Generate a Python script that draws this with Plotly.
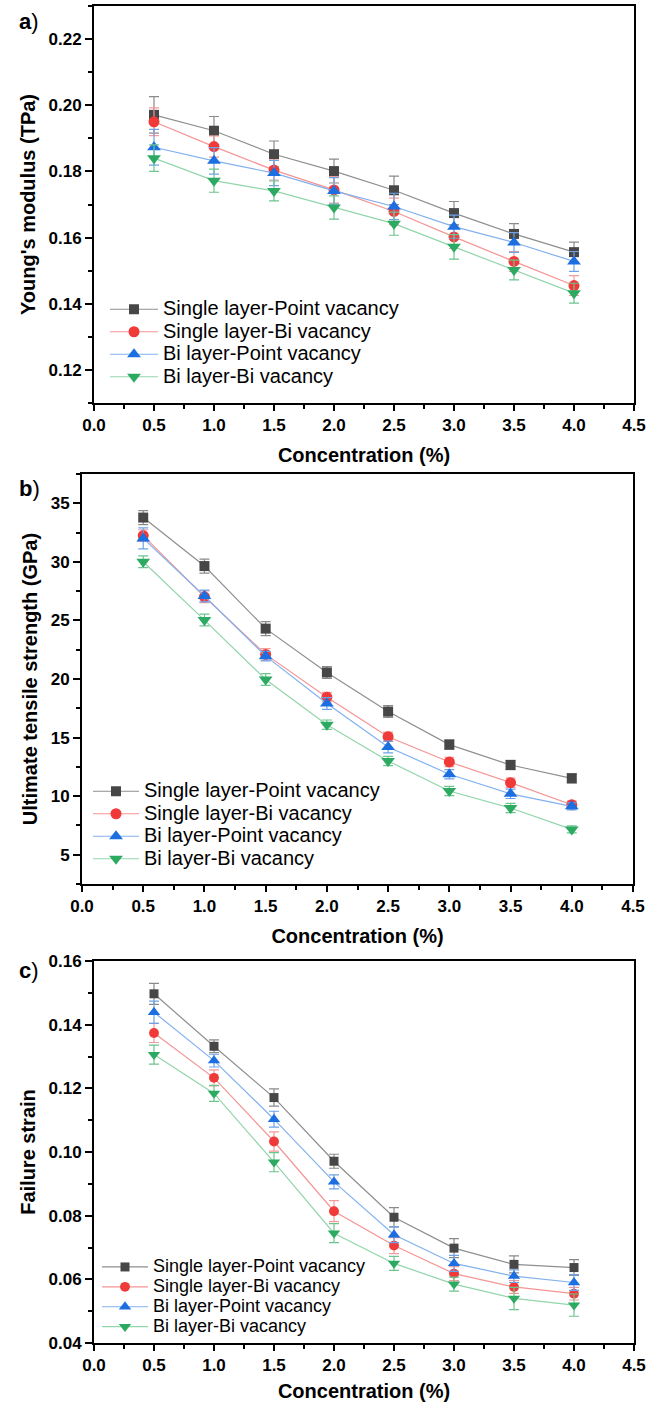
import plotly.graph_objects as go

# ---------------- data ----------------
conc = [0.5, 1.0, 1.5, 2.0, 2.5, 3.0, 3.5, 4.0]
series_names = ["Single layer-Point vacancy", "Single layer-Bi vacancy",
                "Bi layer-Point vacancy", "Bi layer-Bi vacancy"]

# a) Young's modulus (TPa)
ym_sp = [0.1971, 0.1923, 0.1852, 0.1801, 0.1743, 0.1674, 0.1611, 0.1556]
ym_sb = [0.1950, 0.1875, 0.1804, 0.1744, 0.1679, 0.1602, 0.1528, 0.1455]
ym_bp = [0.1873, 0.1832, 0.1795, 0.1741, 0.1694, 0.1633, 0.1585, 0.1528]
ym_bb = [0.1840, 0.1772, 0.1741, 0.1691, 0.1642, 0.1572, 0.1502, 0.1432]
ym_sp_err = [0.0055, 0.0043, 0.0040, 0.0036, 0.0043, 0.0035, 0.0031, 0.0030]
ym_sb_err = [0.0042, 0.0032, 0.0030, 0.0040, 0.0040, 0.0035, 0.0030, 0.0030]
ym_bp_err = [0.0054, 0.0040, 0.0038, 0.0040, 0.0040, 0.0035, 0.0030, 0.0030]
ym_bb_err = [0.0040, 0.0035, 0.0030, 0.0035, 0.0035, 0.0037, 0.0030, 0.0030]

# b) Ultimate tensile strength (GPa)
uts_sp = [33.78, 29.64, 24.30, 20.56, 17.22, 14.40, 12.66, 11.52]
uts_sb = [32.24, 27.02, 22.10, 18.45, 15.07, 12.92, 11.15, 9.27]
uts_bp = [32.00, 27.08, 21.95, 17.91, 14.20, 11.87, 10.20, 9.13]
uts_bb = [30.01, 25.03, 19.96, 16.10, 13.00, 10.44, 8.99, 7.16]
uts_sp_err = [0.6, 0.6, 0.6, 0.5, 0.5, 0.4, 0.4, 0.4]
uts_sb_err = [0.5, 0.5, 0.5, 0.4, 0.4, 0.4, 0.4, 0.3]
uts_bp_err = [0.9, 0.5, 0.4, 0.5, 0.5, 0.4, 0.4, 0.3]
uts_bb_err = [0.5, 0.5, 0.5, 0.4, 0.4, 0.4, 0.4, 0.3]

# c) Failure strain
fs_sp = [0.1497, 0.1332, 0.1171, 0.0971, 0.0795, 0.0698, 0.0647, 0.0637]
fs_sb = [0.1374, 0.1233, 0.1033, 0.0814, 0.0706, 0.0618, 0.0576, 0.0555]
fs_bp = [0.1439, 0.1287, 0.1103, 0.0906, 0.0740, 0.0650, 0.0610, 0.0590]
fs_bb = [0.1306, 0.1184, 0.0968, 0.0745, 0.0650, 0.0585, 0.0540, 0.0519]
fs_sp_err = [0.0033, 0.0020, 0.0027, 0.0022, 0.0030, 0.0030, 0.0027, 0.0025]
fs_sb_err = [0.0030, 0.0025, 0.0030, 0.0033, 0.0025, 0.0022, 0.0020, 0.0020]
fs_bp_err = [0.0035, 0.0020, 0.0025, 0.0022, 0.0025, 0.0025, 0.0020, 0.0025]
fs_bb_err = [0.0030, 0.0025, 0.0030, 0.0030, 0.0022, 0.0022, 0.0035, 0.0035]

# ---------------- styles ----------------
W, H = 662, 1402
FONT = "Liberation Sans, Arial, sans-serif"
marker_colors = ["#474747", "#f03a3a", "#1b6fe0", "#2daa62"]
line_colors = ["#8e8e8e", "#f59494", "#82b1ee", "#92d5ab"]
err_colors = ["#8a8a8a", "#f39a9a", "#6ea3e8", "#6cc48f"]
symbols = ["square", "circle", "triangle-up", "triangle-down"]
msizes = [10, 11, 12, 12]

fig = go.Figure()

panels = [
    dict(ys=[ym_sp, ym_sb, ym_bp, ym_bb], es=[ym_sp_err, ym_sb_err, ym_bp_err, ym_bb_err],
         xa="x", ya="y", leg="legend", ms=1.0, tsize=20),
    dict(ys=[uts_sp, uts_sb, uts_bp, uts_bb], es=[uts_sp_err, uts_sb_err, uts_bp_err, uts_bb_err],
         xa="x2", ya="y2", leg="legend2", ms=1.0, tsize=20),
    dict(ys=[fs_sp, fs_sb, fs_bp, fs_bb], es=[fs_sp_err, fs_sb_err, fs_bp_err, fs_bb_err],
         xa="x3", ya="y3", leg="legend3", ms=0.9, tsize=18),
]

for p in panels:
    for i in range(4):
        fig.add_trace(go.Scatter(
            x=conc, y=p["ys"][i],
            name='<span style="font-size:%dpx">%s</span>' % (p["tsize"], series_names[i]),
            mode="lines+markers",
            xaxis=p["xa"], yaxis=p["ya"], legend=p["leg"],
            line=dict(color=line_colors[i], width=1.2),
            marker=dict(symbol=symbols[i], size=msizes[i] * p["ms"], color=marker_colors[i],
                        line=dict(width=0)),
            error_y=dict(type="data", array=p["es"][i], visible=True,
                         color=err_colors[i], thickness=1.2, width=5),
        ))

def px_x(px):
    return px / W

def px_y(px):
    return 1 - px / H

tickfont = dict(family=FONT, size=17, color="black", weight="bold")
titlefont = dict(family=FONT, size=20, color="black", weight="bold")

def xaxis(domain, anchor):
    return dict(domain=domain, anchor=anchor, range=[0, 4.5], tick0=0, dtick=0.5,
                tickformat=".1f", showline=True, linecolor="black", linewidth=2,
                mirror=True, ticks="outside", ticklen=6, tickwidth=2, tickcolor="black",
                minor=dict(ticks="outside", ticklen=4, tickwidth=1.5, tickcolor="black",
                           dtick=0.25, tick0=0, showgrid=False),
                showgrid=False, zeroline=False, tickfont=tickfont, automargin=False,
                title=dict(text="Concentration (%)", font=titlefont, standoff=14))

def yaxis(domain, anchor, rng, tick0, dtick, mdtick, fmt, title):
    return dict(domain=domain, anchor=anchor, range=rng, tick0=tick0, dtick=dtick,
                tickformat=fmt, showline=True, linecolor="black", linewidth=2,
                mirror=True, ticks="outside", ticklen=7, tickwidth=2, tickcolor="black",
                minor=dict(ticks="outside", ticklen=4, tickwidth=1.5, tickcolor="black",
                           dtick=mdtick, tick0=tick0, showgrid=False),
                showgrid=False, zeroline=False, tickfont=tickfont, automargin=False,
                title=dict(text=title, font=titlefont, standoff=8))

legfont_ab = dict(family=FONT, size=15, color="black")
legfont_c = dict(family=FONT, size=13, color="black")

fig.update_layout(
    width=W, height=H, margin=dict(l=0, r=0, t=0, b=0, autoexpand=False),
    paper_bgcolor="white", plot_bgcolor="white", showlegend=True,
    xaxis=xaxis([px_x(94), px_x(634)], "y"),
    yaxis=yaxis([px_y(403), px_y(6)], "x", [0.11, 0.23], 0.12, 0.02, 0.01, ".2f",
                "Young's modulus (TPa)"),
    xaxis2=xaxis([px_x(82), px_x(633)], "y2"),
    yaxis2=yaxis([px_y(884), px_y(474)], "x2", [2.5, 37.5], 5, 5, 2.5, "d",
                 "Ultimate tensile strength (GPa)"),
    xaxis3=xaxis([px_x(94), px_x(634)], "y3"),
    yaxis3=yaxis([px_y(1343), px_y(961)], "x3", [0.0399999, 0.1600001], 0.04, 0.02, 0.01, ".2f",
                 "Failure strain"),
    legend=dict(x=px_x(105), y=px_y(293), xanchor="left", yanchor="top", itemwidth=48,
                bgcolor="rgba(0,0,0,0)", font=legfont_ab, tracegroupgap=0),
    legend2=dict(x=px_x(88), y=px_y(775), xanchor="left", yanchor="top", itemwidth=46,
                 bgcolor="rgba(0,0,0,0)", font=legfont_ab, tracegroupgap=0),
    legend3=dict(x=px_x(97), y=px_y(1252), xanchor="left", yanchor="top", itemwidth=46,
                 bgcolor="rgba(0,0,0,0)", font=legfont_c, tracegroupgap=0),
)

labels = [("a", 22), ("b", 488), ("c", 970)]
for lab, yy in labels:
    fig.add_annotation(x=px_x(29), y=px_y(yy), xref="paper", yref="paper",
                       xanchor="center", yanchor="middle",
                       text="<b>" + lab + "</b>)", showarrow=False,
                       font=dict(family=FONT, size=22, color="black"))

fig.write_html("out.html", config={"displayModeBar": False},
               post_script="document.body.style.margin='0';document.body.style.padding='0';"
                           "document.documentElement.style.overflow='hidden';")
